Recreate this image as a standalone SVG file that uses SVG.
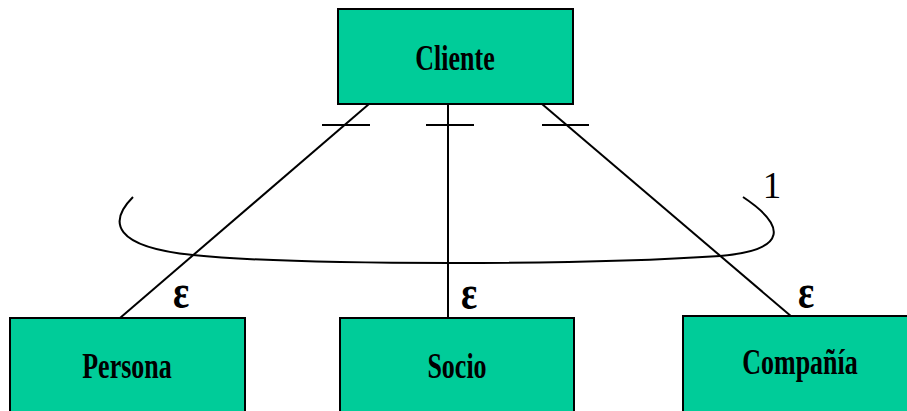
<svg xmlns="http://www.w3.org/2000/svg" width="907" height="411" viewBox="0 0 907 411">
  <style>
    .box { fill: #00CC99; stroke: #000; stroke-width: 2; }
    .lbl { font-family: "Liberation Serif", "Times New Roman", serif; font-weight: bold; font-size: 26px; text-anchor: middle; fill: #000; }
    .one { font-family: "Liberation Serif", "Times New Roman", serif; font-size: 37px; text-anchor: middle; fill: #000; }
    .eps { font-family: "Liberation Serif", "Times New Roman", serif; font-weight: bold; font-size: 38px; text-anchor: middle; fill: #000; }
    .edge { stroke: #000; stroke-width: 2; fill: none; }
  </style>
  <rect width="907" height="411" fill="#fff"/>

  <g id="connectors">
    <line class="edge" x1="369" y1="104" x2="120" y2="318"/>
    <line class="edge" x1="448" y1="104" x2="448" y2="318"/>
    <line class="edge" x1="542" y1="104" x2="792" y2="317"/>
    <!-- single-cardinality ticks near the parent -->
    <line class="edge" x1="322" y1="125" x2="370" y2="125"/>
    <line class="edge" x1="426" y1="125" x2="474" y2="125"/>
    <line class="edge" x1="542" y1="125" x2="589" y2="125"/>
    <!-- exclusivity arc -->
    <path class="edge" d="M133,197 C108,222 113,247 193,255 C260,262 380,263 450,263 C560,263 660,260 720,256 C790,250 785,225 743,197"/>
    <text class="one" x="772" y="198">1</text>
    <text class="eps" transform="translate(181,308) scale(1,1.3)">ε</text>
    <text class="eps" transform="translate(469,309) scale(1,1.3)">ε</text>
    <text class="eps" transform="translate(806,308) scale(1,1.3)">ε</text>
  </g>

  <g id="cliente">
    <rect class="box" x="338" y="9" width="235" height="95"/>
    <text class="lbl" transform="translate(455,70) scale(1,1.35)">Cliente</text>
  </g>
  <g id="persona">
    <rect class="box" x="10" y="318" width="235" height="100"/>
    <text class="lbl" transform="translate(127,378) scale(1,1.35)">Persona</text>
  </g>
  <g id="socio">
    <rect class="box" x="340" y="318" width="234" height="100"/>
    <text class="lbl" transform="translate(457,378) scale(1,1.35)">Socio</text>
  </g>
  <g id="compania">
    <rect class="box" x="683" y="316" width="230" height="100"/>
    <text class="lbl" transform="translate(800,374) scale(1,1.35)">Compañía</text>
  </g>
</svg>
